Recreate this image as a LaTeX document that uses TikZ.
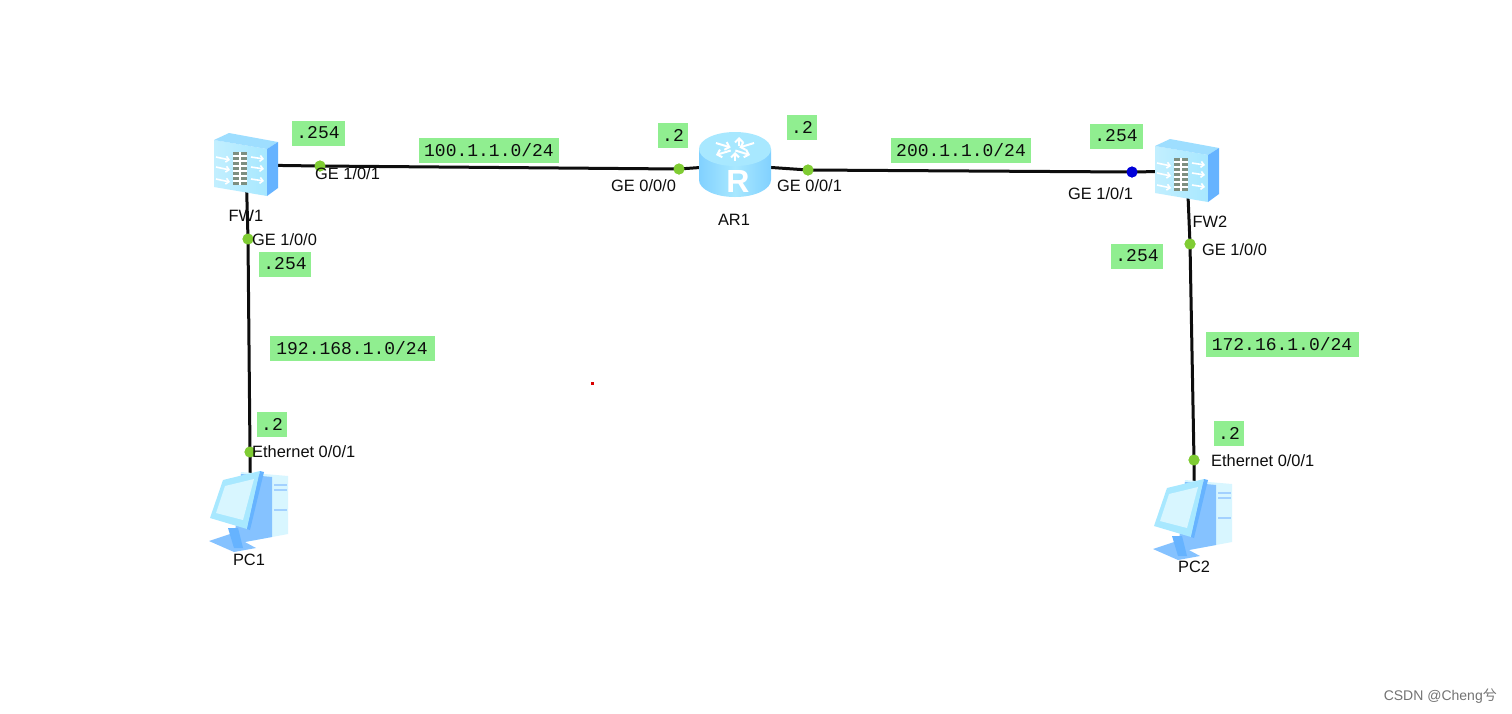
\documentclass[tikz,border=0pt]{standalone}
\usepackage{fontspec}
\setmainfont{Liberation Sans}
\setmonofont{Liberation Mono}
\newfontfamily\cjkfont{Noto Sans CJK SC}
\usetikzlibrary{arrows.meta}
\definecolor{tagbg}{HTML}{90EE90}
\definecolor{dotgreen}{HTML}{7FCC33}
\definecolor{devlight}{HTML}{A8E8FF}
\definecolor{devmid}{HTML}{86D6FF}
\definecolor{devside}{HTML}{66B3FF}
\definecolor{devpale}{HTML}{D8F6FF}
\definecolor{brick}{HTML}{7E8F80}
\tikzset{
  x=1pt,y=-1pt,
  link/.style={line width=3pt,black!95,line join=round},
  anchorpt/.style={inner sep=0pt,minimum size=0pt},
  port/.style={circle,fill=dotgreen,inner sep=0pt,minimum size=11pt},
  portblue/.style={circle,fill=blue!85!black,inner sep=0pt,minimum size=11pt},
  tag/.style={fill=tagbg,inner sep=0pt,minimum height=25pt,font=\ttfamily\fontsize{18}{18}\selectfont,text=black!95},
  lab/.style={inner sep=0pt,font=\fontsize{16.4}{16.4}\selectfont,text=black!95},
  firewall/.pic={
    \shade[left color=devlight!70!white,right color=devlight] (-32,-25) -- (21,-16) -- (21,31) -- (-32,22) -- cycle;
    \fill[devmid!80!white] (-32,-25) -- (-17,-32) -- (32,-23) -- (21,-16) -- cycle;
    \fill[devside] (21,-16) -- (32,-23) -- (32,23) -- (21,31) -- cycle;
    \fill[brick] (-13,-13) rectangle (1,20);
    \foreach \yy in {-9,-4,1,6,11,16} \draw[white,line width=1.2pt] (-13,\yy) -- (1,\yy);
    \draw[white,line width=1.2pt] (-6,-13) -- (-6,20);
    \foreach \yy in {-8,2,14} {
      \draw[white,line width=1.6pt,-{Straight Barb[length=3pt]}] (-30,\yy) -- (-16,\yy+3);
      \draw[white,line width=1.6pt,-{Straight Barb[length=3pt]}] (5,\yy) -- (18,\yy+2);
    }
  },
  router/.pic={
    \shade[left color=devmid!85!devside,right color=devmid!85!devside,middle color=devlight] (-36,-16) -- (-36,15) arc[start angle=180,end angle=360,x radius=36,y radius=-17] -- (36,-16) -- cycle;
    \fill[devlight] (0,-16) ellipse[x radius=36,y radius=17];
    \foreach \aa in {30,150,270} {
      \draw[white,line width=2pt,-{Straight Barb[length=4pt]}] (-5+\aa/30,-16) ++(\aa:5 and 3) -- ++(\aa:17 and 9);
      \draw[white,line width=2pt,{Straight Barb[length=4pt]}-] (0,-16) ++(\aa+60:5 and 3) -- ++(\aa+60:17 and 9);
    }
    \node[inner sep=0pt,text=white,font=\bfseries\fontsize{32}{32}\selectfont] at (3,16) {R};
  },
  pccomp/.pic={
    % tower
    \fill[devpale] (-9,-38) -- (38,-34) -- (38,24) -- (-16,34) -- cycle;
    \fill[devside!80] (-9,-36) -- (22,-33) -- (22,27) -- (-16,34) -- cycle;
    \draw[devside!60,line width=1.2pt] (24,-25) -- (37,-25) (24,-20) -- (37,-20) (24,0) -- (37,0);
    % base
    \fill[devside!80] (-41,31) -- (-20,24) -- (6,38) -- (-16,42) -- cycle;
    \fill[devside] (-22,18) -- (-12,18) -- (-7,38) -- (-16,38) -- cycle;
    % monitor
    \fill[devlight] (-27,-30) -- (10,-39) -- (-3,19) -- (-40,8) -- cycle;
    \fill[devside] (10,-39) -- (14,-38) -- (0,20) -- (-3,19) -- cycle;
    \fill[devpale] (-25,-24) -- (4,-31) -- (-7,10) -- (-34,3) -- cycle;
  }
}
\begin{document}
\begin{tikzpicture}
\useasboundingbox (0,0) rectangle (1512,713);
\fill[white] (0,0) rectangle (1512,713);
% device anchors
\node[anchorpt] (FW1) at (246,165) {};
\node[anchorpt] (AR1) at (735,165) {};
\node[anchorpt] (FW2) at (1187,171) {};
\node[anchorpt] (PC1) at (250,510) {};
\node[anchorpt] (PC2) at (1194,518) {};
% port dots
\node[port] (p1) at (320,166) {};
\node[port] (p2) at (679,169) {};
\node[port] (p3) at (808,170) {};
\node[portblue] (p4) at (1132,172) {};
\node[port] (p5) at (248,239) {};
\node[port] (p6) at (250,452) {};
\node[port] (p7) at (1190,244) {};
\node[port] (p8) at (1194,460) {};
% links
\draw[link] (FW1.center) -- (p1.center) -- (p2.center) -- (AR1.center);
\draw[link] (AR1.center) -- (p3.center) -- (p4.center) -- (FW2.center);
\draw[link] (FW1.center) -- (p5.center) -- (p6.center) -- (PC1.center);
\draw[link] (FW2.center) -- (p7.center) -- (p8.center) -- (PC2.center);
% redraw dots above links
\foreach \pp in {p1,p2,p3,p5,p6,p7,p8} \fill[dotgreen] (\pp) circle[radius=5.5];
\fill[blue!85!black] (p4) circle[radius=5.5];
% devices
\pic at (FW1) {firewall};
\pic at (FW2) {firewall};
\pic at (AR1) {router};
\pic at (PC1) {pccomp};
\pic at (PC2) {pccomp};
% device labels
\node[lab] (tFW1) at (246,216) {FW1};
\node[lab] (tAR1) at (734,220) {AR1};
\node[lab] (tFW2) at (1210,222) {FW2};
\node[lab] (tPC1) at (249,560) {PC1};
\node[lab] (tPC2) at (1194,567) {PC2};
% interface labels
\node[lab,anchor=west] (i1) at (315,174) {GE 1/0/1};
\node[lab,anchor=west] (i2) at (611,186) {GE 0/0/0};
\node[lab,anchor=west] (i3) at (777,186) {GE 0/0/1};
\node[lab,anchor=west] (i4) at (1068,194) {GE 1/0/1};
\node[lab,anchor=west] (i5) at (252,240) {GE 1/0/0};
\node[lab,anchor=west] (i6) at (1202,250) {GE 1/0/0};
\node[lab,anchor=west] (i7) at (252,452) {Ethernet 0/0/1};
\node[lab,anchor=west] (i8) at (1211,461) {Ethernet 0/0/1};
% address tags
\node[tag,minimum width=53pt] (a1) at (318,133) {.254};
\node[tag,minimum width=140pt] (a2) at (489,150) {100.1.1.0/24};
\node[tag,minimum width=30pt] (a3) at (673,135) {.2};
\node[tag,minimum width=30pt] (a4) at (802,127) {.2};
\node[tag,minimum width=140pt] (a5) at (961,150) {200.1.1.0/24};
\node[tag,minimum width=53pt] (a6) at (1116,136) {.254};
\node[tag,minimum width=52pt] (a7) at (285,264) {.254};
\node[tag,minimum width=52pt] (a8) at (1137,256) {.254};
\node[tag,minimum width=165pt] (a9) at (352,348) {192.168.1.0/24};
\node[tag,minimum width=153pt] (a10) at (1282,344) {172.16.1.0/24};
\node[tag,minimum width=30pt] (a11) at (272,424) {.2};
\node[tag,minimum width=30pt] (a12) at (1229,433) {.2};
% red speck
\fill[red!85!black] (591,382) rectangle (594,385);
% watermark
\node[inner sep=0pt,anchor=east,text=black!55,font=\fontsize{14}{14}\selectfont] (wm) at (1497,696) {CSDN @Cheng{\cjkfont 兮}};
\end{tikzpicture}
\end{document}
